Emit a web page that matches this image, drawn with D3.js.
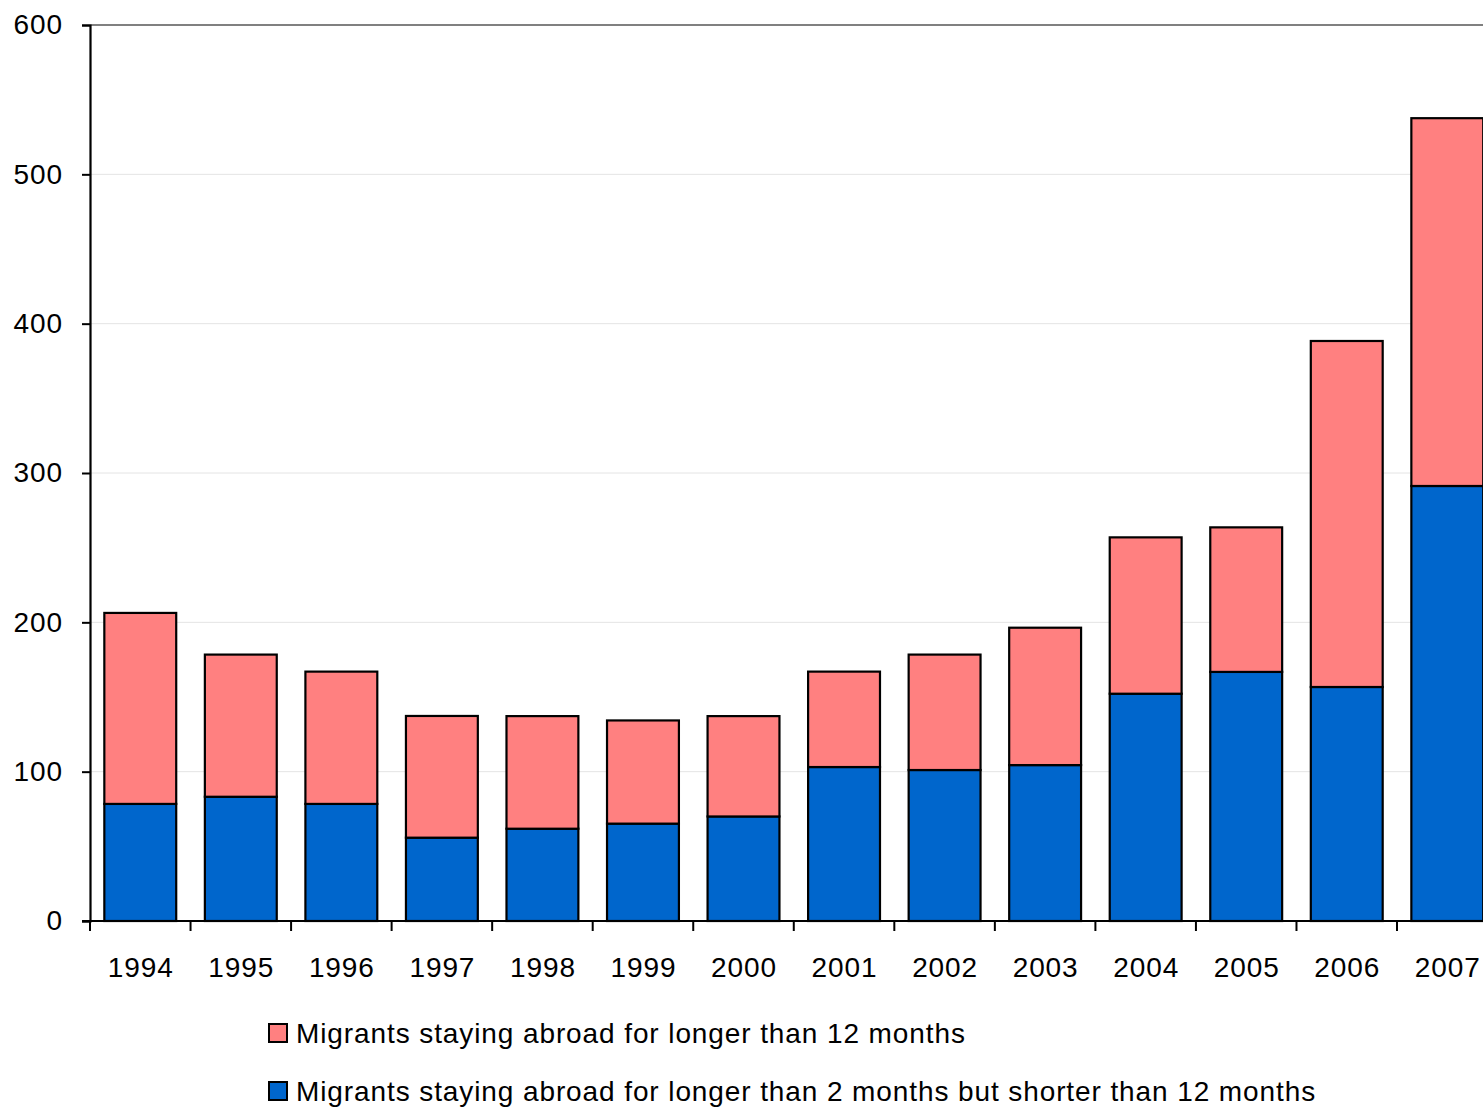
<!DOCTYPE html>
<html>
<head>
<meta charset="utf-8">
<script src="https://cdn.jsdelivr.net/npm/d3@7/dist/d3.min.js"></script>
<style>
  html, body { margin: 0; padding: 0; background: #fff; }
  svg { display: block; font-family: "Liberation Sans", Arial, sans-serif; }
  text { letter-spacing: 0.9px; }
</style>
</head>
<body>
<svg id="chart" width="1483" height="1108"></svg>
<script>
// Migrants by year, thousands
const years = ["1994","1995","1996","1997","1998","1999","2000","2001","2002","2003","2004","2005","2006","2007"];
const shortStay = [78.4, 83.2, 78.4, 55.8, 61.8, 65.2, 70.0, 103.1, 101.1, 104.4, 152.2, 166.8, 156.7, 291.3];
const longStayTotal = [206.3, 178.4, 167.0, 137.3, 137.2, 134.3, 137.2, 167.0, 178.4, 196.4, 256.9, 263.6, 388.4, 537.6];
const longStay = longStayTotal.map((t, i) => +(t - shortStay[i]).toFixed(1));
const yTicks = [0, 100, 200, 300, 400, 500, 600];
const seriesNames = [
  "Migrants staying abroad for longer than 12 months",
  "Migrants staying abroad for longer than 2 months but shorter than 12 months"
];
const seriesColors = ["#FF8080", "#0066CC"];

(function draw() {
  const svg = d3.select("#chart");
  const plotLeft = 90, plotBottom = 921, plotTop = 25, plotRight = 1483;
  const step = 100.54;
  const fontSize = 28;

  const x = d3.scaleBand()
    .domain(years)
    .range([plotLeft, plotLeft + step * years.length])
    .paddingInner(0.285)
    .paddingOuter(0.1425);

  const y = d3.scaleLinear().domain([0, 600]).range([plotBottom, plotTop]);

  // gridlines
  svg.append("g")
    .selectAll("line")
    .data(yTicks.filter(d => d > 0 && d < 600))
    .join("line")
    .attr("x1", plotLeft).attr("x2", plotRight)
    .attr("y1", d => y(d)).attr("y2", d => y(d))
    .attr("stroke", "#e4e4e4").attr("stroke-width", 1);

  // top frame line at 600
  svg.append("line")
    .attr("x1", plotLeft).attr("x2", plotRight)
    .attr("y1", y(600)).attr("y2", y(600))
    .attr("stroke", "#808080").attr("stroke-width", 2);

  // stacked data
  const rows = years.map((yr, i) => ({ year: yr, short: shortStay[i], long: longStay[i] }));
  const stack = d3.stack().keys(["short", "long"])(rows);
  const colorByKey = { short: seriesColors[1], long: seriesColors[0] };

  svg.append("g")
    .selectAll("g")
    .data(stack)
    .join("g")
    .attr("fill", d => colorByKey[d.key])
    .selectAll("rect")
    .data(d => d)
    .join("rect")
    .attr("x", d => x(d.data.year))
    .attr("width", x.bandwidth())
    .attr("y", d => y(d[1]))
    .attr("height", d => y(d[0]) - y(d[1]))
    .attr("stroke", "#000")
    .attr("stroke-width", 2.2);

  // y axis
  const yAxis = svg.append("g")
    .attr("transform", `translate(${plotLeft},0)`)
    .call(d3.axisLeft(y).tickValues(yTicks).tickSize(8).tickPadding(19).tickFormat(d3.format("d")));
  yAxis.select(".domain").attr("stroke", "#000").attr("stroke-width", 2.2);
  yAxis.selectAll(".tick line").attr("stroke", "#000").attr("stroke-width", 2);
  yAxis.selectAll("text").attr("font-size", fontSize).attr("fill", "#000")
    .attr("font-family", "Liberation Sans, Arial, sans-serif");

  // x axis baseline and ticks at category boundaries
  const xAxisG = svg.append("g");
  xAxisG.append("line")
    .attr("x1", plotLeft - 8).attr("x2", plotRight)
    .attr("y1", plotBottom).attr("y2", plotBottom)
    .attr("stroke", "#000").attr("stroke-width", 2.2);
  xAxisG.selectAll("line.tk")
    .data(years)
    .join("line")
    .attr("class", "tk")
    .attr("x1", d => x(d) - x.step() * x.paddingOuter())
    .attr("x2", d => x(d) - x.step() * x.paddingOuter())
    .attr("y1", plotBottom).attr("y2", plotBottom + 10)
    .attr("stroke", "#000").attr("stroke-width", 2);
  xAxisG.selectAll("text")
    .data(years)
    .join("text")
    .attr("x", d => x(d) + x.bandwidth() / 2 + 0.5)
    .attr("y", 977)
    .attr("text-anchor", "middle")
    .attr("font-size", fontSize)
    .attr("fill", "#000")
    .text(d => d);

  // legend
  const legend = svg.append("g");
  const legendRows = [
    { name: seriesNames[0], color: seriesColors[0], cy: 1033 },
    { name: seriesNames[1], color: seriesColors[1], cy: 1091 }
  ];
  legend.selectAll("rect")
    .data(legendRows)
    .join("rect")
    .attr("x", 269).attr("y", d => d.cy - 9)
    .attr("width", 18).attr("height", 18)
    .attr("fill", d => d.color)
    .attr("stroke", "#000").attr("stroke-width", 2);
  legend.selectAll("text")
    .data(legendRows)
    .join("text")
    .attr("x", 296).attr("y", d => d.cy + 10)
    .attr("font-size", fontSize)
    .attr("fill", "#000")
    .text(d => d.name);
})();
</script>
</body>
</html>
